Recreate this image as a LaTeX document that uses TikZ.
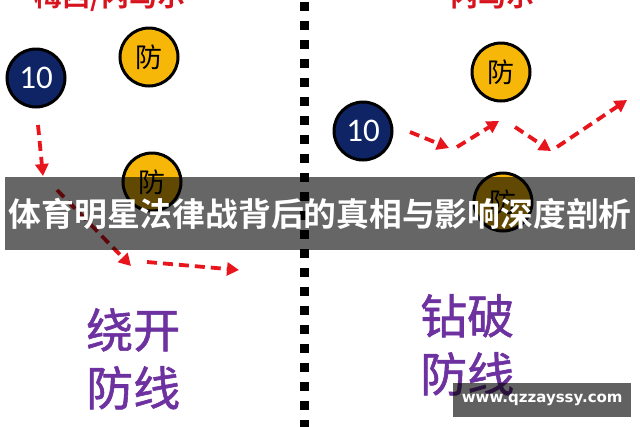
\documentclass[tikz,border=0pt]{standalone}
\usepackage{fontspec}
\usetikzlibrary{arrows.meta}
\newfontfamily\cjk{Noto Sans CJK SC}
\newfontfamily\cjkm{Noto Sans CJK SC}[FakeBold=1.2]
\newfontfamily\cjkb{Noto Sans CJK SC Bold}
\newfontfamily\numfont{Carlito}
\newfontfamily\wmfont{DejaVu Sans}
\definecolor{gold}{RGB}{247,183,8}
\definecolor{navy}{RGB}{14,36,100}
\definecolor{arrowred}{RGB}{232,22,28}
\definecolor{purp}{RGB}{110,50,160}
\definecolor{titlered}{RGB}{215,20,30}
\tikzset{
  defender/.style={circle,draw=black,line width=3pt,fill=gold,minimum size=58pt,inner sep=0pt,font=\cjk\fontsize{27}{27}\selectfont,text=black},
  striker/.style={circle,draw=black,line width=3pt,fill=navy,minimum size=58pt,inner sep=0pt,font=\numfont\fontsize{33}{33}\selectfont,text=white},
  run/.style={draw=arrowred,line width=3.8pt,dash pattern=on 10pt off 6pt,-{Triangle[length=12pt,width=13pt,fill=arrowred]}},
  dots/.style={line width=9pt,dash pattern=on 9pt off 10pt},
  heading/.style={font=\cjkb\fontsize{28}{28}\selectfont,text=titlered,anchor=base},
  caption/.style={font=\cjkm\fontsize{47}{58}\selectfont,text=purp,align=left,inner sep=0pt},
}
\begin{document}
\begin{tikzpicture}[x=1pt,y=-1pt]
\useasboundingbox (0,0) rectangle (640,426);
\clip (0,0) rectangle (640,426);
\fill[white] (0,0) rectangle (640,426);
% headings (cut off at the top)
\node[heading] (hl) at (110,6) {梅西/内马尔};
\node[heading] (hr) at (492,6) {内马尔};
% divider
\coordinate (dtop) at (304,2);
\coordinate (dbot) at (304,430);
\draw[dots] (dtop) -- (dbot);
% left play
\node[striker] (s1) at (36,78) {10};
\node[defender] (d1) at (149,57) {防};
\node[defender] (d2) at (152,182) {防};
\coordinate (a1s) at (38,125);
\coordinate (a1e) at (43,176);
\coordinate (a2s) at (57,190);
\coordinate (a2e) at (131,266);
\coordinate (a3s) at (147,262);
\coordinate (a3e) at (239,270);
\draw[run] (a1s) -- (a1e);
\draw[run] (a2s) -- (a2e);
\draw[run] (a3s) -- (a3e);
% right play
\node[striker] (s2) at (363,131) {10};
\node[defender] (d3) at (501,72) {防};
\node[defender] (d4) at (503,202) {防};
\coordinate (b1s) at (410,132);
\coordinate (b1e) at (449,148);
\coordinate (b2s) at (457,147);
\coordinate (b2e) at (499,121);
\coordinate (b3s) at (515,127);
\coordinate (b3e) at (551,151);
\coordinate (b4s) at (557,147);
\coordinate (b4e) at (627,100);
\draw[run] (b1s) -- (b1e);
\draw[run] (b2s) -- (b2e);
\draw[run] (b3s) -- (b3e);
\draw[run] (b4s) -- (b4e);
% captions
\node[caption,anchor=north west] (cl) at (86,308) {绕开\\防线};
\node[caption,anchor=north west] (cr) at (420,294) {钻破\\防线};
% overlay band
\node[fill=black,fill opacity=0.6,text opacity=1,minimum width=630pt,minimum height=73pt,inner sep=0pt,anchor=north west,text=white,font=\cjkb\fontsize{32.8}{32.8}\selectfont] (band) at (5,177) {体育明星法律战背后的真相与影响深度剖析};
% watermark
\node[fill=black,fill opacity=0.62,text opacity=1,minimum width=178pt,minimum height=34pt,inner sep=0pt,anchor=north west,text=white,font=\wmfont\bfseries\fontsize{15}{15}\selectfont] (wm) at (453,383) {www.qzzayssy.com};
\end{tikzpicture}
\end{document}
